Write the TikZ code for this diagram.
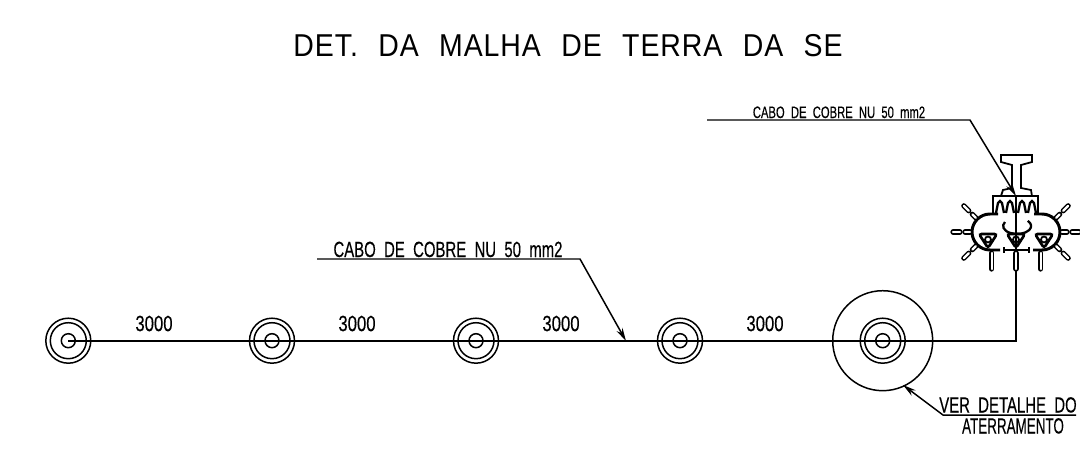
\documentclass[tikz,border=0pt]{standalone}
\usepackage{fontspec}
\usetikzlibrary{arrows.meta}
\newfontfamily\cadfont[FakeStretch=0.68,WordSpace=2.0,FakeBold=0.25]{Liberation Sans}
\newfontfamily\cadtitle[FakeStretch=0.9,WordSpace=2.3,LetterSpace=3]{Liberation Sans}
\tikzset{
	rod/.style={circle, draw, line width=0.85pt, minimum size=0.9cm, inner sep=0pt},
	rodmid/.style={circle, draw, line width=0.85pt, minimum size=0.72cm, inner sep=0pt},
	rodcore/.style={circle, draw, line width=0.85pt, minimum size=0.28cm, inner sep=0pt},
	cable/.style={line width=1.15pt},
	leader/.style={line width=0.85pt},
	tip/.style={-{Stealth[length=7.5pt,width=3.8pt]}},
	lbl/.style={inner sep=0pt, font=\cadfont\fontsize{12.5}{12.5}\selectfont},
	dist/.style={lbl, xscale=1.12},
	spike/.style={double, double distance=1.3pt, line width=0.85pt, line cap=round},
	clampline/.style={line width=1.3pt}
}
\begin{document}
\begin{tikzpicture}[x=0.02cm, y=-0.02cm]
	\useasboundingbox (0,0) rectangle (1080,450);
	\node[inner sep=0pt, font=\cadtitle\fontsize{18}{18}\selectfont] (title) at (568,45.5) {DET. DA MALHA DE TERRA DA SE};
	% ground rods
	\foreach \name/\xpos in {1/68.3, 2/272, 3/476, 4/680, 5/882.7} {
		\node[rod] (rod\name) at (\xpos,340.7) {};
		\node[rodmid] (mid\name) at (\xpos,340.7) {};
		\node[rodcore] (core\name) at (\xpos,340.7) {};
	}
	\node[circle, draw, line width=0.85pt, minimum size=2cm, inner sep=0pt] (pit) at (rod5) {};
	\coordinate (corner) at (1016,340.7);
	\coordinate (railfoot) at (1016,196);
	\draw[cable] (rod1.center) -- (rod5.center) -- (corner) -- (railfoot);
	% spacing labels
	\node[dist] (dist1) at (154,323.5) {3000};
	\node[dist] (dist2) at (357,323.5) {3000};
	\node[dist] (dist3) at (561,323.5) {3000};
	\node[dist] (dist4) at (765,323.5) {3000};
	% leaders
	\coordinate (lineA) at (317,259);
	\coordinate (bendA) at (580,259);
	\coordinate (endA) at (626,341);
	\node[lbl, anchor=base] (cableA) at (448,257) {CABO DE COBRE NU 50 mm2};
	\draw[leader, tip] (lineA) -- (bendA) -- (endA);
	\coordinate (lineB) at (707,120);
	\coordinate (bendB) at (970,120);
	\node[lbl, anchor=base, font=\cadfont\fontsize{9.4}{9.4}\selectfont] (cableB) at (839,118) {CABO DE COBRE NU 50 mm2};
	\draw[leader, tip] (lineB) -- (bendB) -- (railfoot);
	\coordinate (lineC) at (1076,415);
	\coordinate (bendC) at (943,415);
	\coordinate (endC) at (903,385);
	\node[lbl, anchor=base] (verA) at (1008,412.5) {VER DETALHE DO};
	\node[lbl, anchor=base, xscale=0.9] (verB) at (1013,433.5) {ATERRAMENTO};
	\draw[leader, tip] (lineC) -- (bendC) -- (endC);
	% rail
	\draw[line width=1pt] (1012,188) -- (1012,165) -- (1001,162) -- (1001,155) -- (1032,155) -- (1032,162) -- (1021,165) -- (1021,188) -- (1031,190) -- (1032,196) -- (1001,196) -- (1003,190) -- cycle;
	% clamp
	\coordinate (lobeL) at (990,232);
	\coordinate (lobeR) at (1042,232);
	\draw[line width=1pt] (993,213) -- (993,196) -- (1038,196) -- (1038,213);
	\foreach \xpos in {1000,1010,1022,1032} {
		\draw[clampline] (\xpos-4,213) -- (\xpos-2,203) -- (\xpos,201) -- (\xpos+2,203) -- (\xpos+4,213);
	}
	\draw[line width=1.7pt] (998,214) -- (990,214) arc[start angle=90, end angle=270, radius=0.36cm] -- (1000,250);
	\draw[line width=1.7pt] (1034,214) -- (1042,214) arc[start angle=90, end angle=-90, radius=0.36cm] -- (1033,250);
	\draw[line width=1.7pt] (1004,250) -- (1029,250);
	\draw[clampline] (1004,247) -- (1004,253) (1029,247) -- (1029,253);
	\draw[clampline] (1005,222) arc[x radius=0.28cm, y radius=0.16cm, start angle=150, end angle=400];
	\foreach \a in {135,180,225} {
		\draw[spike, shift={(lobeL)}] (\a:0.4cm) -- (\a:0.5cm);
		\draw[spike, shift={(lobeL)}] (\a:0.6cm) -- (\a:0.74cm);
	}
	\foreach \a in {45,0,-45} {
		\draw[spike, shift={(lobeR)}] (\a:0.4cm) -- (\a:0.5cm);
		\draw[spike, shift={(lobeR)}] (\a:0.6cm) -- (\a:0.74cm);
	}
	\foreach \xpos in {991.7,1016,1040.7} {
		\draw[spike] (\xpos,253) -- (\xpos,269);
	}
	\foreach \xpos in {988,1016,1044} {
		\draw[rounded corners=1.5pt, line width=1.5pt] (\xpos-9,234) -- (\xpos+9,234) -- (\xpos,248) -- cycle;
		\draw[line width=1pt] (\xpos,239.5) circle[radius=0.06cm];
	}
\end{tikzpicture}
\end{document}
